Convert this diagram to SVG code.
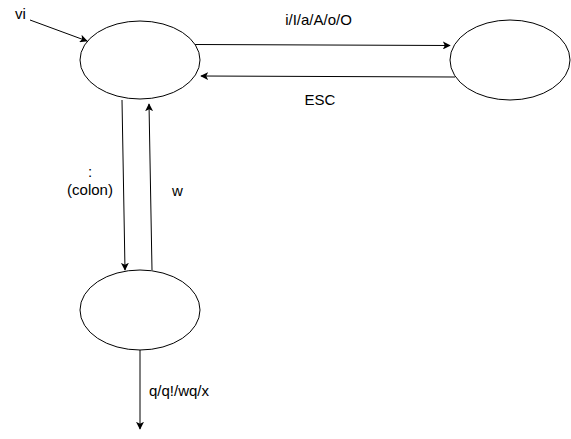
<svg xmlns="http://www.w3.org/2000/svg" width="571" height="439" viewBox="0 0 571 439">
<style>
.node{fill:#ffffff;stroke:#000000;stroke-width:1}
.edge{fill:none;stroke:#000000;stroke-width:1;marker-end:url(#arr)}
text{font-family:"Liberation Sans",Arial,sans-serif;font-size:15px;fill:#000000}
</style>
<defs>
<marker id="arr" viewBox="0 0 10 10" refX="9" refY="5" markerWidth="8" markerHeight="8" markerUnits="userSpaceOnUse" orient="auto">
<path d="M0,0 L10,5 L0,10 L2.5,5 Z" fill="#000000"/>
</marker>
</defs>
<rect width="571" height="439" fill="#ffffff"/>
<g id="connectors">
<line class="edge" x1="30" y1="20" x2="87" y2="41"/>
<line class="edge" x1="195" y1="44.5" x2="450" y2="45.5"/>
<line class="edge" x1="455" y1="77" x2="201" y2="76"/>
<line class="edge" x1="122" y1="100" x2="125" y2="270"/>
<line class="edge" x1="152" y1="270" x2="149" y2="104"/>
<line class="edge" x1="140" y1="350" x2="140" y2="429"/>
</g>
<g id="node-command">
<ellipse class="node" cx="140" cy="60" rx="60" ry="39"/>
</g>
<g id="node-insert">
<ellipse class="node" cx="510" cy="60" rx="60" ry="40"/>
</g>
<g id="node-lastline">
<ellipse class="node" cx="140" cy="310" rx="60" ry="40"/>
</g>
<g id="labels">
<text x="15" y="19">vi</text>
<text x="318.5" y="25" text-anchor="middle">i/I/a/A/o/O</text>
<text x="320" y="105" text-anchor="middle">ESC</text>
<text x="90" y="177" text-anchor="middle">:</text>
<text x="90" y="195" text-anchor="middle">(colon)</text>
<text x="177.5" y="196" text-anchor="middle">w</text>
<text x="149" y="396">q/q!/wq/x</text>
</g>
</svg>
